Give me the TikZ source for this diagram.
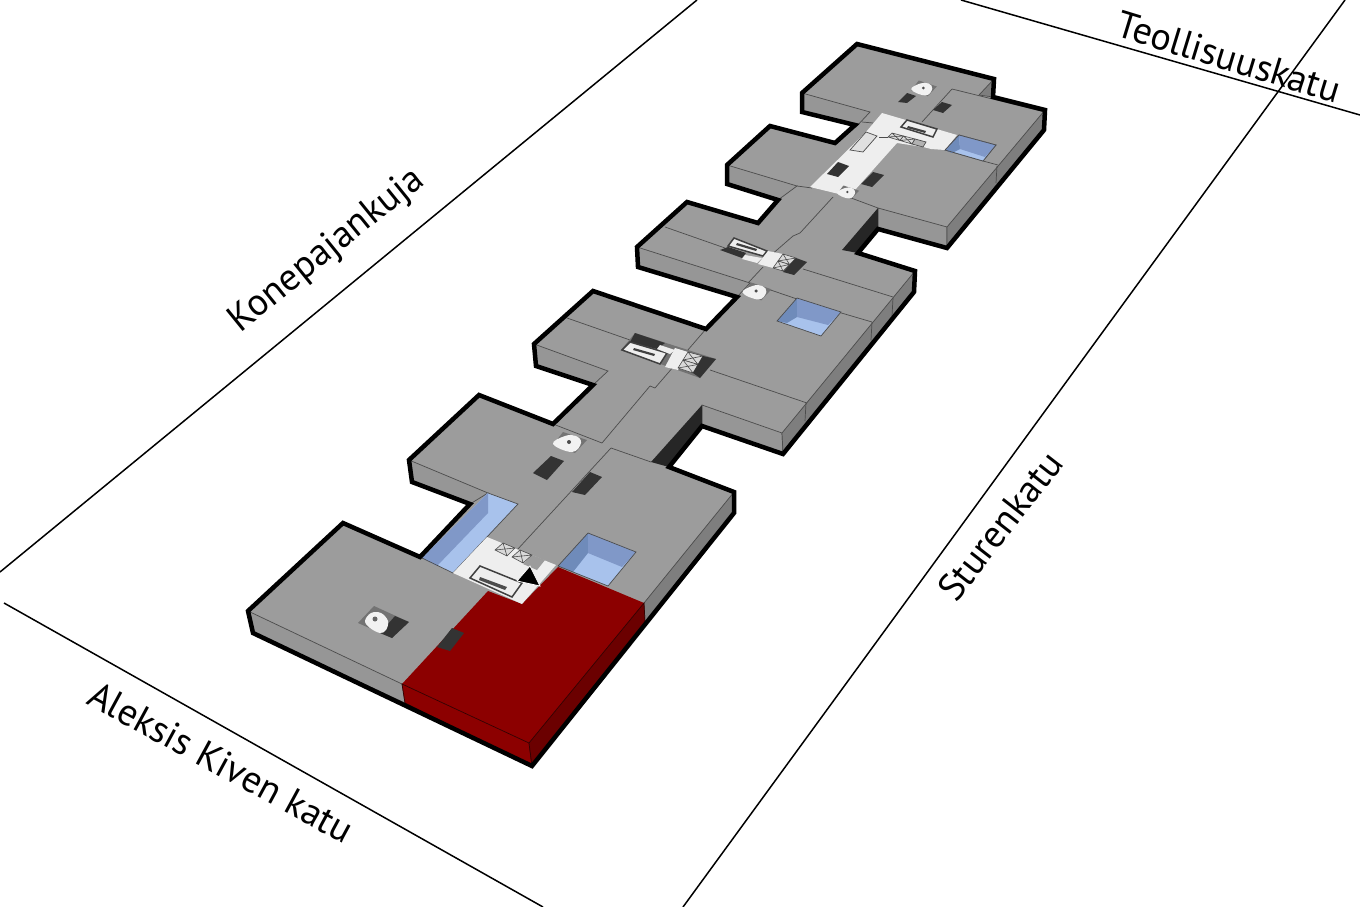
\documentclass[tikz,border=0pt]{standalone}
\usepackage{fontspec}
\setmainfont{PT Sans}
\usepackage{tikz}
\definecolor{topgray}{HTML}{9C9C9C}
\definecolor{frontgray}{HTML}{969696}
\definecolor{sidegray}{HTML}{7E7E7E}
\definecolor{darkgray}{HTML}{333333}
\definecolor{wallred}{HTML}{8C0000}
\definecolor{sidered}{HTML}{6B0000}
\definecolor{hallwhite}{HTML}{EEEEEE}
\definecolor{bluefloor}{HTML}{A8C2EC}
\definecolor{bluewall}{HTML}{8098C8}
\definecolor{bluedeep}{HTML}{6F8BBA}
\tikzset{
    seam/.style={draw=black!70, line width=0.7pt},
    street/.style={draw=black, line width=1.5pt},
    outline/.style={draw=black, line width=4.5pt, line join=miter},
    roadname/.style={font=\fontsize{38}{40}\selectfont, inner sep=0pt},
    darkbox/.style={fill=darkgray},
    stairbox/.style={fill=hallwhite, draw=black!75, line width=1.5pt},
}
\newcommand{\liftdisc}[3]{
    \begin{scope}[shift={(#1,#2)}, scale=#3]
        \fill[black!55] (-7,-10)--(17,-2)--(5,11)--(-17,3)--cycle;
        \fill[white!95!black] plot[smooth cycle, tension=0.7] coordinates {(-17,2) (-5,-6) (6,-6) (11,1) (2,10)};
        \fill[black!70] (-1,0) circle (2);
    \end{scope}
}
\newcommand{\crosstile}[4]{
    \draw[fill=white!85!black, draw=black!70, line width=0.6pt] (#1)--(#2)--(#3)--(#4)--cycle (#1)--(#3) (#2)--(#4);
}
\begin{document}
\begin{tikzpicture}[x=1pt,y=-1pt]
    \useasboundingbox (0,0) rectangle (1360,907);

    % streets
    \foreach \xa/\ya/\xb/\yb in {697/0/0/572, 4/603/543/907, 1345/0/683/907, 961/0/1360/115}{
        \draw[street] (\xa,\ya)--(\xb,\yb);
    }
    \node[roadname, rotate=-28.5] (aleksis) at (221,762) {Aleksis Kiven katu};
    \node[roadname, rotate=39] (konepaja) at (327,251) {Konepajankuja};
    \node[roadname, rotate=52] (sturen) at (1000,526) {Sturenkatu};
    \node[roadname, rotate=-17] (teollisuus) at (1229,57) {Teollisuuskatu};

    % top surface
    \fill[topgray] (857,44)--(994,79)--(993,97)--(1045,110)--(1044,130)--(947,248)--(878,229)--(858,253)--(915,271)--(914,292)--(783,454)--(702,426)--(669,467)--(734,492)--(734,513)--(532,766)--(253,633)--(248,611)--(343,523)--(420,557)--(470,504)--(412,482)--(409,460)--(479,395)--(553,424)--(593,385)--(536,366)--(534,344)--(593,291)--(706,329)--(737,297)--(638,267)--(637,247)--(687,202)--(758,223)--(778,200)--(727,184)--(727,165)--(770,126)--(835,143)--(855,125)--(802,112)--(802,93)--cycle;

    % faces towards the viewer
    \foreach \p in {
        {(248,611)--(402,684)--(405,703)--(253,633)},
        {(409,460)--(488,493)--(470,504)--(412,482)},
        {(534,344)--(608,371)--(593,385)--(536,366)},
        {(702,405)--(782,433)--(783,454)--(702,426)},
        {(637,247)--(750,283)--(737,297)--(638,267)},
        {(727,165)--(797,186)--(778,200)--(727,184)},
        {(878,208)--(947,227)--(947,248)--(878,229)},
        {(802,93)--(870,112)--(856,127)--(802,112)}}{
        \filldraw[fill=frontgray, seam] \p--cycle;
    }
    \foreach \p in {
        {(644,603)--(734,492)--(734,513)--(645,622)},
        {(782,433)--(915,271)--(914,292)--(783,454)},
        {(947,227)--(1045,110)--(1044,130)--(947,248)},
        {(979,95)--(994,79)--(993,97)}}{
        \filldraw[fill=sidegray, seam] \p--cycle;
    }
    \fill[black!85] (651,462)--(702,405)--(702,426)--(669,467)--cycle;
    \fill[black!85] (842,250)--(878,208)--(878,229)--(858,253)--cycle;

    % thin lines on the roof
    \foreach \xa/\ya/\xb/\yb in {
        517/550/611/448, 553/424/602/443, 611/448/651/462, 602/443/650/386, 650/386/655/388,
        655/388/706/329, 567/318/630/340, 710/370/807/403, 806/403/805/421, 893/298/892/316,
        872/322/871/340, 750/283/797/299, 838/312/872/322, 665/227/725/248, 803/269/893/297,
        748/283/763/267, 797/186/812/188, 843/195/878/208,
        833/197/800/233, 800/233/793/236, 793/236/770/256,
        862/122/873/123, 922/122/952/89, 952/89/1045/112, 983/161/998/165, 997/166/996/183}{
        \draw[seam] (\xa,\ya)--(\xb,\yb);
    }

    % light wells
    \fill[bluefloor] (488,493)--(518,504)--(453,573)--(422,558)--cycle;
    \fill[bluewall] (488,493)--(488,513)--(437,566)--(422,558)--cycle;
    \foreach \xa/\ya/\xb/\yb/\xc/\yc/\xd/\yd/\xe/\ye/\xf/\yf/\xg/\yg in {
        588/533/636/552/608/586/558/566/588/553/622/567/573/572,
        797/298/841/312/821/336/777/321/797/317/828/325/787/323,
        959/135/996/145/983/161/945/150/960/149/985/157/952/153}{
        \fill[bluefloor] (\xa,\ya)--(\xb,\yb)--(\xc,\yc)--(\xd,\yd)--cycle;
        \fill[bluedeep] (\xa,\ya)--(\xe,\ye)--(\xg,\yg)--(\xd,\yd)--cycle;
        \fill[bluewall] (\xa,\ya)--(\xb,\yb)--(\xf,\yf)--(\xe,\ye)--cycle;
        \draw[seam] (\xa,\ya)--(\xb,\yb)--(\xc,\yc)--(\xd,\yd)--cycle;
    }
    \draw[seam] (488,493)--(518,504)--(453,573)--(422,558);

    % red unit
    \fill[wallred] (402,684)--(488,591)--(522,604)--(558,567)--(644,603)--(529,743)--cycle;
    \filldraw[fill=wallred, draw=black!80!red, line width=0.7pt] (402,684)--(529,743)--(532,766)--(405,703)--cycle;
    \filldraw[fill=sidered, draw=black!80!red, line width=0.7pt] (529,743)--(644,603)--(645,622)--(532,766)--cycle;

    % first stair hall
    \fill[hallwhite] (487,537)--(556,565)--(522,604)--(453,573)--cycle;
    \fill[topgray] (532,555)--(545,560)--(537,570)--(523,564)--cycle;
    \crosstile{495,550}{503,543}{515,548}{507,556}
    \crosstile{512,557}{520,550}{532,555}{523,563}
    \draw[stairbox] (470,578)--(480,566)--(522,583)--(512,597)--cycle;
    \fill[black!70] (480,577)--(507,587)--(505,590)--(479,580)--cycle;
    \fill[darkbox] (437,647)--(452,628)--(464,633)--(450,651)--cycle;

    % big lift on the left
    \fill[black!55] (358,623)--(374,606)--(409,622)--(392,638)--cycle;
    \fill[darkgray] (395,616)--(409,622)--(392,638)--(380,633)--cycle;
    \fill[white!95!black] plot[smooth cycle, tension=0.6] coordinates {(365,621) (371,613) (381,613) (388,621) (386,630) (380,633) (370,628)};
    \fill[black!60] (375,619) circle (2.5);

    % lifts
    \liftdisc{570}{442}{1}
    \liftdisc{757}{291}{0.85}
    \liftdisc{924}{88}{0.75}

    % dark boxes
    \foreach \p in {
        {(533,473)--(551,456)--(564,461)--(547,480)},
        {(572,492)--(590,472)--(602,477)--(585,495)},
        {(898,102)--(907,93)--(916,96)--(907,103)},
        {(933,110)--(942,102)--(952,105)--(943,113)}}{
        \fill[darkbox] \p--cycle;
    }

    % second core
    \fill[black!55] (621,350)--(635,333)--(716,359)--(700,378)--cycle;
    \fill[darkgray] (635,333)--(665,343)--(657,349)--(630,342)--cycle;
    \draw[stairbox] (622,350)--(630,342)--(667,353)--(660,364)--cycle;
    \fill[black!75] (634,348)--(655,354)--(654,356)--(633,350)--cycle;
    \fill[hallwhite] (660,345)--(675,350)--(670,354)--(657,349)--cycle;
    \fill[hallwhite] (675,348)--(688,352)--(678,370)--(665,367)--cycle;
    \crosstile{688,352}{703,356}{698,364.5}{683,360}
    \crosstile{683,360}{698,364.5}{693,373}{678,368}
    \fill[darkbox] (703,356)--(716,359)--(700,378)--(693,373)--cycle;

    % third core
    \fill[darkgray] (720,250)--(728,247)--(746,253)--(742,258)--cycle;
    \draw[stairbox] (728,246)--(734,238)--(767,251)--(763,256)--cycle;
    \fill[black!75] (737,243)--(757,249)--(756,251)--(736,245)--cycle;
    \fill[hallwhite] (745,255)--(762,258)--(757,263)--(742,259)--cycle;
    \fill[hallwhite] (768,251)--(783,254)--(773,268)--(758,264)--cycle;
    \crosstile{783,254}{796,258}{789.5,264.5}{778,261}
    \crosstile{778,261}{789.5,264.5}{783,271}{773,268}
    \fill[darkbox] (796,258)--(807,262)--(794,275)--(783,272)--cycle;

    % top hall
    \fill[hallwhite] (882,113)--(957,135)--(945,150)--(931,149)--(923,147)--(897,143)--(855,190)--(843,195)--(810,187)--(866,132)--cycle;
    \filldraw[fill=black!12, seam] (850,150)--(863,152)--(877,136)--(866,132)--cycle;
    \draw[seam] (879,137)--(888,137);
    \foreach \p in {
        {(827,174)--(838,162)--(849,166)--(838,177)},
        {(861,184)--(873,172)--(884,175)--(872,187)}}{
        \fill[darkbox] \p--cycle;
    }
    \draw[stairbox] (901,127)--(907,120)--(937,129)--(933,137)--cycle;
    \fill[black!75] (908,126)--(926,131)--(925,133)--(907,128)--cycle;
    \crosstile{888,137}{892,133}{903.5,136}{900,140.5}
    \crosstile{900,140.5}{903.5,136}{915,139}{912,144}
    \filldraw[fill=black!30, seam] (915,139)--(926,142)--(923,147)--(912,144)--cycle;
    \liftdisc{848}{192}{0.65}
    \fill[bluefloor] (959,135)--(996,145)--(983,161)--(945,150)--cycle;
    \fill[bluedeep] (959,135)--(960,149)--(952,153)--(945,150)--cycle;
    \fill[bluewall] (959,135)--(996,145)--(985,157)--(960,149)--cycle;
    \draw[seam] (959,135)--(996,145)--(983,161)--(945,150)--cycle;

    % heavy outline of the whole building
    \draw[outline] (857,44)--(994,79)--(993,97)--(1045,110)--(1044,130)--(947,248)--(878,229)--(858,253)--(915,271)--(914,292)--(783,454)--(702,426)--(669,467)--(734,492)--(734,513)--(532,766)--(253,633)--(248,611)--(343,523)--(420,557)--(470,504)--(412,482)--(409,460)--(479,395)--(553,424)--(593,385)--(536,366)--(534,344)--(593,291)--(706,329)--(737,297)--(638,267)--(637,247)--(687,202)--(758,223)--(778,200)--(727,184)--(727,165)--(770,126)--(835,143)--(855,125)--(802,112)--(802,93)--cycle;

    % entrance marker
    \filldraw[fill=black, draw=white, line width=0.8pt] (530,566)--(517,581)--(540,586)--cycle;
\end{tikzpicture}
\end{document}
